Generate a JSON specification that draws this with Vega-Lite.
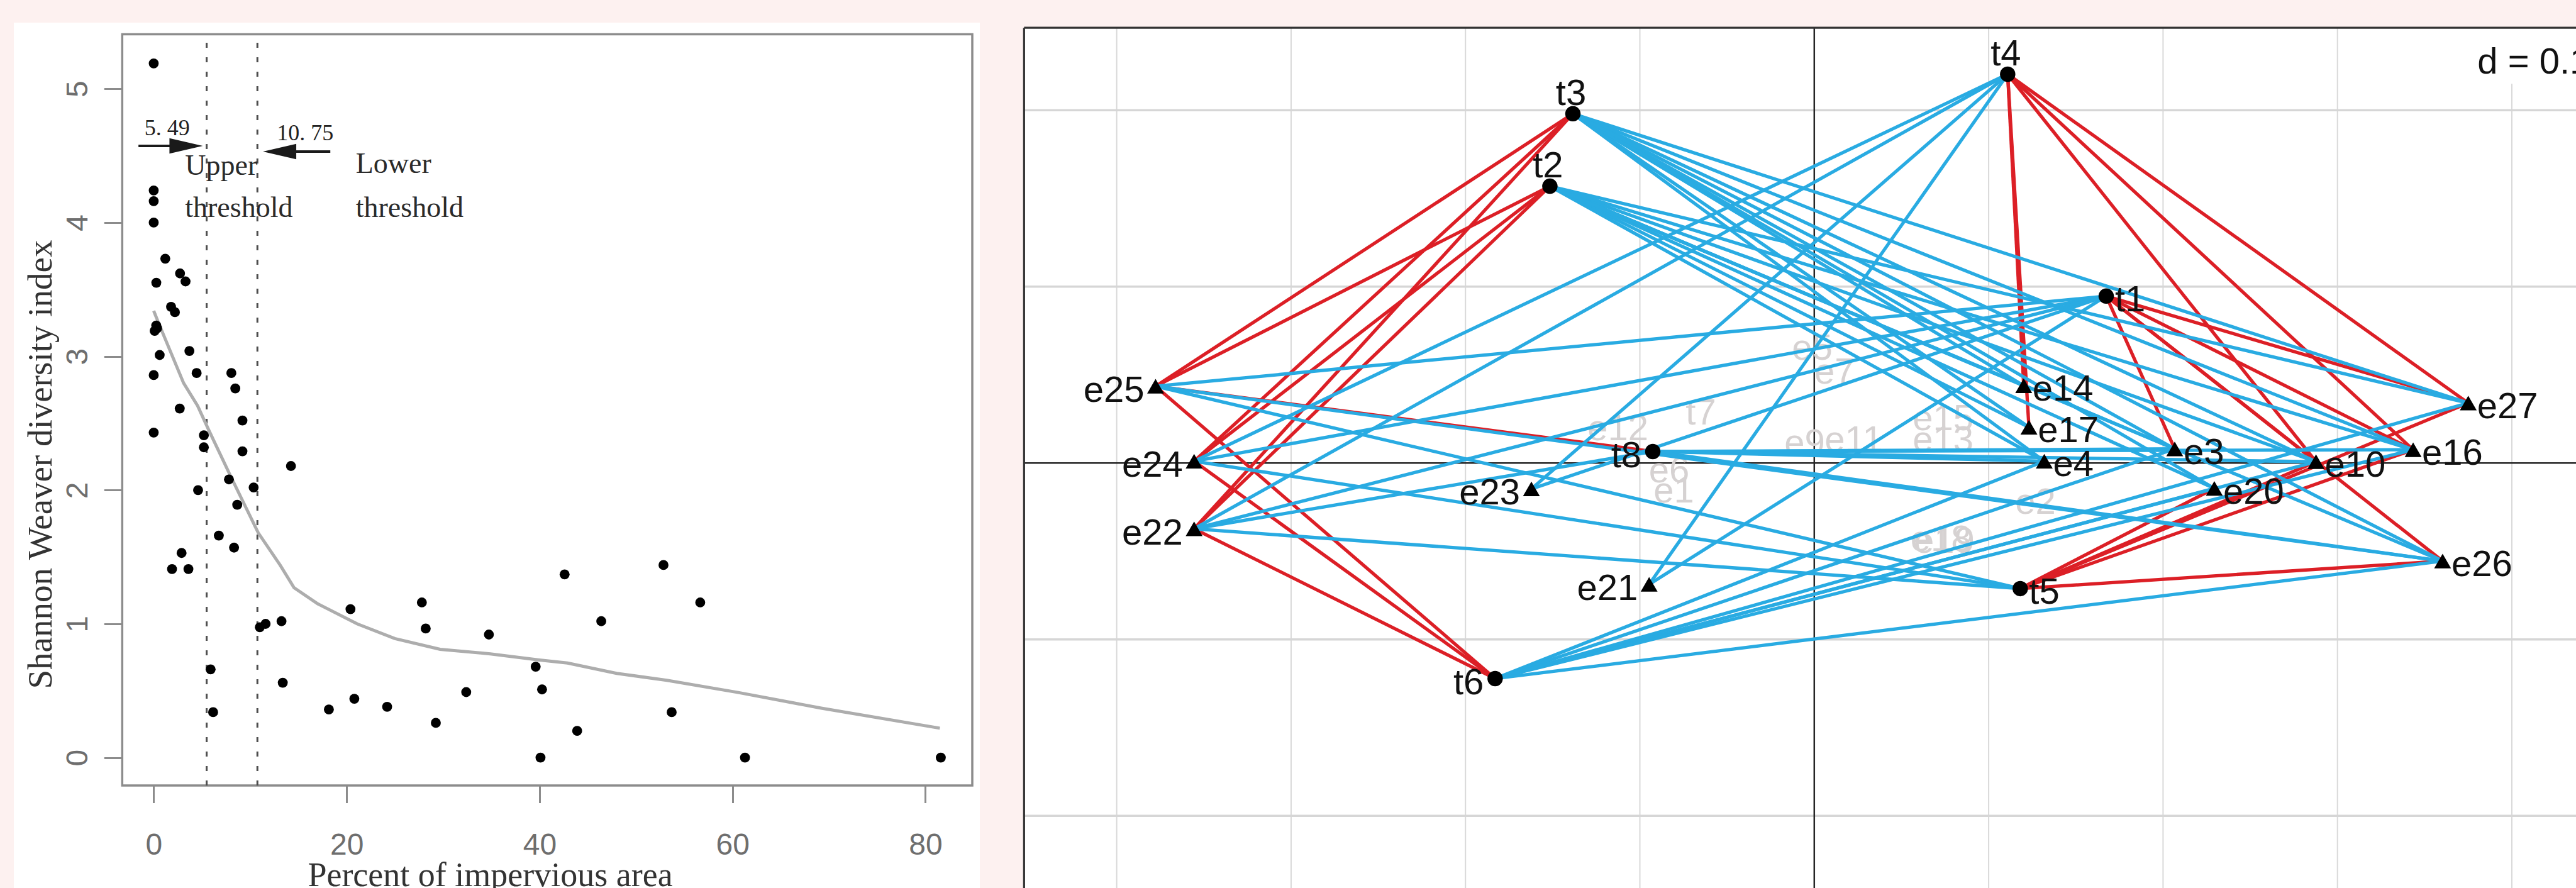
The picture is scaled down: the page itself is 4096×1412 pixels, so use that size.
{
  "$schema": "https://vega.github.io/schema/vega-lite/v6.json",
  "usermeta": {"embedOptions": {"actions": false}},
  "width": 4096,
  "height": 1412,
  "padding": 0,
  "autosize": {"type": "none"},
  "background": "#fdf1f0",
  "config": {"view": {"stroke": null, "fill": null}, "axis": {"grid": false}},
  "datasets": {
    "pts": [
      {"x": 0, "y": 5.19}, {"x": 0, "y": 4.24}, {"x": 0, "y": 4.16}, {"x": 0, "y": 4.0},
      {"x": 1.2, "y": 3.73}, {"x": 0.27, "y": 3.55}, {"x": 2.73, "y": 3.62}, {"x": 3.3, "y": 3.56},
      {"x": 1.8, "y": 3.37}, {"x": 2.2, "y": 3.33}, {"x": 0.26, "y": 3.23}, {"x": 0.1, "y": 3.19},
      {"x": 0.35, "y": 3.21}, {"x": 0.62, "y": 3.01}, {"x": 3.7, "y": 3.04}, {"x": 0, "y": 2.86},
      {"x": 4.45, "y": 2.875}, {"x": 2.7, "y": 2.61}, {"x": 0, "y": 2.43}, {"x": 5.2, "y": 2.41},
      {"x": 5.2, "y": 2.32}, {"x": 4.6, "y": 2.0}, {"x": 8.05, "y": 2.875}, {"x": 8.46, "y": 2.76},
      {"x": 9.2, "y": 2.52}, {"x": 9.2, "y": 2.29}, {"x": 7.8, "y": 2.08}, {"x": 8.66, "y": 1.89},
      {"x": 10.36, "y": 2.02}, {"x": 6.75, "y": 1.66}, {"x": 8.33, "y": 1.57}, {"x": 2.89, "y": 1.53},
      {"x": 1.9, "y": 1.41}, {"x": 3.6, "y": 1.41}, {"x": 14.23, "y": 2.18}, {"x": 11.0, "y": 0.975},
      {"x": 11.6, "y": 1.0}, {"x": 13.25, "y": 1.02}, {"x": 5.9, "y": 0.66}, {"x": 6.16, "y": 0.34},
      {"x": 13.38, "y": 0.56}, {"x": 18.16, "y": 0.36}, {"x": 20.4, "y": 1.11}, {"x": 20.8, "y": 0.44},
      {"x": 24.2, "y": 0.38}, {"x": 27.8, "y": 1.16}, {"x": 28.2, "y": 0.965}, {"x": 29.25, "y": 0.26},
      {"x": 32.4, "y": 0.49}, {"x": 34.75, "y": 0.92}, {"x": 39.6, "y": 0.68}, {"x": 40.26, "y": 0.51},
      {"x": 40.1, "y": 0}, {"x": 42.6, "y": 1.37}, {"x": 43.9, "y": 0.2}, {"x": 46.4, "y": 1.02},
      {"x": 52.85, "y": 1.44}, {"x": 53.7, "y": 0.34}, {"x": 56.66, "y": 1.16}, {"x": 61.3, "y": 0},
      {"x": 81.6, "y": 0}
    ],
    "lowess": [
      {"x": 0, "y": 3.34}, {"x": 0.5, "y": 3.25}, {"x": 3.1, "y": 2.8}, {"x": 4.55, "y": 2.63},
      {"x": 5.7, "y": 2.45}, {"x": 8.0, "y": 2.1}, {"x": 10.84, "y": 1.68}, {"x": 13.1, "y": 1.44},
      {"x": 14.55, "y": 1.27}, {"x": 17, "y": 1.15}, {"x": 21.1, "y": 1.0}, {"x": 25, "y": 0.89},
      {"x": 29.7, "y": 0.81}, {"x": 34.9, "y": 0.776}, {"x": 40, "y": 0.73}, {"x": 42.9, "y": 0.707},
      {"x": 48, "y": 0.63}, {"x": 53.2, "y": 0.578}, {"x": 60.6, "y": 0.487}, {"x": 69.2, "y": 0.37},
      {"x": 81.5, "y": 0.22}
    ],
    "nodes": [
      {"id": "t4", "kind": "t", "x": 0.1109, "y": 0.2204},
      {"id": "t3", "kind": "t", "x": -0.1384, "y": 0.198},
      {"id": "t2", "kind": "t", "x": -0.1516, "y": 0.1569},
      {"id": "t1", "kind": "t", "x": 0.1674, "y": 0.0946},
      {"id": "t8", "kind": "t", "x": -0.0926, "y": 0.0065},
      {"id": "t6", "kind": "t", "x": -0.183, "y": -0.1222},
      {"id": "t5", "kind": "t", "x": 0.1181, "y": -0.0712},
      {"id": "e25", "kind": "e", "x": -0.3777, "y": 0.0435},
      {"id": "e24", "kind": "e", "x": -0.3556, "y": 0.001},
      {"id": "e22", "kind": "e", "x": -0.3556, "y": -0.0373},
      {"id": "e23", "kind": "e", "x": -0.1622, "y": -0.0147},
      {"id": "e21", "kind": "e", "x": -0.0947, "y": -0.0688},
      {"id": "e14", "kind": "e", "x": 0.1201, "y": 0.0438},
      {"id": "e17", "kind": "e", "x": 0.1231, "y": 0.0203},
      {"id": "e4", "kind": "e", "x": 0.1319, "y": 0.001},
      {"id": "e3", "kind": "e", "x": 0.2067, "y": 0.008},
      {"id": "e20", "kind": "e", "x": 0.2294, "y": -0.0144},
      {"id": "e10", "kind": "e", "x": 0.2877, "y": 0.0007},
      {"id": "e16", "kind": "e", "x": 0.3434, "y": 0.0075},
      {"id": "e27", "kind": "e", "x": 0.375, "y": 0.034},
      {"id": "e26", "kind": "e", "x": 0.3603, "y": -0.0556}
    ],
    "edges": [
      {"s": "t3", "t": "e25", "sign": "neg", "xa": -0.1384, "ya": 0.198, "xb": -0.3777, "yb": 0.0435},
      {"s": "t3", "t": "e24", "sign": "neg", "xa": -0.1384, "ya": 0.198, "xb": -0.3556, "yb": 0.001},
      {"s": "t3", "t": "e22", "sign": "neg", "xa": -0.1384, "ya": 0.198, "xb": -0.3556, "yb": -0.0373},
      {"s": "t2", "t": "e25", "sign": "neg", "xa": -0.1516, "ya": 0.1569, "xb": -0.3777, "yb": 0.0435},
      {"s": "t2", "t": "e24", "sign": "neg", "xa": -0.1516, "ya": 0.1569, "xb": -0.3556, "yb": 0.001},
      {"s": "t2", "t": "e22", "sign": "neg", "xa": -0.1516, "ya": 0.1569, "xb": -0.3556, "yb": -0.0373},
      {"s": "t6", "t": "e25", "sign": "neg", "xa": -0.183, "ya": -0.1222, "xb": -0.3777, "yb": 0.0435},
      {"s": "t6", "t": "e24", "sign": "neg", "xa": -0.183, "ya": -0.1222, "xb": -0.3556, "yb": 0.001},
      {"s": "t6", "t": "e22", "sign": "neg", "xa": -0.183, "ya": -0.1222, "xb": -0.3556, "yb": -0.0373},
      {"s": "t8", "t": "e25", "sign": "neg", "xa": -0.0926, "ya": 0.0065, "xb": -0.3777, "yb": 0.0435},
      {"s": "t4", "t": "e14", "sign": "neg", "xa": 0.1109, "ya": 0.2204, "xb": 0.1201, "yb": 0.0438},
      {"s": "t4", "t": "e17", "sign": "neg", "xa": 0.1109, "ya": 0.2204, "xb": 0.1231, "yb": 0.0203},
      {"s": "t4", "t": "e27", "sign": "neg", "xa": 0.1109, "ya": 0.2204, "xb": 0.375, "yb": 0.034},
      {"s": "t4", "t": "e16", "sign": "neg", "xa": 0.1109, "ya": 0.2204, "xb": 0.3434, "yb": 0.0075},
      {"s": "t4", "t": "e10", "sign": "neg", "xa": 0.1109, "ya": 0.2204, "xb": 0.2877, "yb": 0.0007},
      {"s": "t1", "t": "e3", "sign": "neg", "xa": 0.1674, "ya": 0.0946, "xb": 0.2067, "yb": 0.008},
      {"s": "t1", "t": "e27", "sign": "neg", "xa": 0.1674, "ya": 0.0946, "xb": 0.375, "yb": 0.034},
      {"s": "t1", "t": "e16", "sign": "neg", "xa": 0.1674, "ya": 0.0946, "xb": 0.3434, "yb": 0.0075},
      {"s": "t1", "t": "e10", "sign": "neg", "xa": 0.1674, "ya": 0.0946, "xb": 0.2877, "yb": 0.0007},
      {"s": "t1", "t": "e26", "sign": "neg", "xa": 0.1674, "ya": 0.0946, "xb": 0.3603, "yb": -0.0556},
      {"s": "t5", "t": "e20", "sign": "neg", "xa": 0.1181, "ya": -0.0712, "xb": 0.2294, "yb": -0.0144},
      {"s": "t5", "t": "e10", "sign": "neg", "xa": 0.1181, "ya": -0.0712, "xb": 0.2877, "yb": 0.0007},
      {"s": "t5", "t": "e16", "sign": "neg", "xa": 0.1181, "ya": -0.0712, "xb": 0.3434, "yb": 0.0075},
      {"s": "t5", "t": "e27", "sign": "neg", "xa": 0.1181, "ya": -0.0712, "xb": 0.375, "yb": 0.034},
      {"s": "t5", "t": "e26", "sign": "neg", "xa": 0.1181, "ya": -0.0712, "xb": 0.3603, "yb": -0.0556},
      {"s": "t3", "t": "e14", "sign": "pos", "xa": -0.1384, "ya": 0.198, "xb": 0.1201, "yb": 0.0438},
      {"s": "t3", "t": "e17", "sign": "pos", "xa": -0.1384, "ya": 0.198, "xb": 0.1231, "yb": 0.0203},
      {"s": "t3", "t": "e4", "sign": "pos", "xa": -0.1384, "ya": 0.198, "xb": 0.1319, "yb": 0.001},
      {"s": "t3", "t": "e3", "sign": "pos", "xa": -0.1384, "ya": 0.198, "xb": 0.2067, "yb": 0.008},
      {"s": "t3", "t": "e20", "sign": "pos", "xa": -0.1384, "ya": 0.198, "xb": 0.2294, "yb": -0.0144},
      {"s": "t3", "t": "e10", "sign": "pos", "xa": -0.1384, "ya": 0.198, "xb": 0.2877, "yb": 0.0007},
      {"s": "t3", "t": "e16", "sign": "pos", "xa": -0.1384, "ya": 0.198, "xb": 0.3434, "yb": 0.0075},
      {"s": "t3", "t": "e27", "sign": "pos", "xa": -0.1384, "ya": 0.198, "xb": 0.375, "yb": 0.034},
      {"s": "t3", "t": "e26", "sign": "pos", "xa": -0.1384, "ya": 0.198, "xb": 0.3603, "yb": -0.0556},
      {"s": "t2", "t": "e14", "sign": "pos", "xa": -0.1516, "ya": 0.1569, "xb": 0.1201, "yb": 0.0438},
      {"s": "t2", "t": "e17", "sign": "pos", "xa": -0.1516, "ya": 0.1569, "xb": 0.1231, "yb": 0.0203},
      {"s": "t2", "t": "e4", "sign": "pos", "xa": -0.1516, "ya": 0.1569, "xb": 0.1319, "yb": 0.001},
      {"s": "t2", "t": "e3", "sign": "pos", "xa": -0.1516, "ya": 0.1569, "xb": 0.2067, "yb": 0.008},
      {"s": "t2", "t": "e20", "sign": "pos", "xa": -0.1516, "ya": 0.1569, "xb": 0.2294, "yb": -0.0144},
      {"s": "t2", "t": "e10", "sign": "pos", "xa": -0.1516, "ya": 0.1569, "xb": 0.2877, "yb": 0.0007},
      {"s": "t2", "t": "e16", "sign": "pos", "xa": -0.1516, "ya": 0.1569, "xb": 0.3434, "yb": 0.0075},
      {"s": "t2", "t": "e27", "sign": "pos", "xa": -0.1516, "ya": 0.1569, "xb": 0.375, "yb": 0.034},
      {"s": "t2", "t": "e26", "sign": "pos", "xa": -0.1516, "ya": 0.1569, "xb": 0.3603, "yb": -0.0556},
      {"s": "t4", "t": "e24", "sign": "pos", "xa": 0.1109, "ya": 0.2204, "xb": -0.3556, "yb": 0.001},
      {"s": "t4", "t": "e22", "sign": "pos", "xa": 0.1109, "ya": 0.2204, "xb": -0.3556, "yb": -0.0373},
      {"s": "t4", "t": "e23", "sign": "pos", "xa": 0.1109, "ya": 0.2204, "xb": -0.1622, "yb": -0.0147},
      {"s": "t4", "t": "e21", "sign": "pos", "xa": 0.1109, "ya": 0.2204, "xb": -0.0947, "yb": -0.0688},
      {"s": "t1", "t": "e25", "sign": "pos", "xa": 0.1674, "ya": 0.0946, "xb": -0.3777, "yb": 0.0435},
      {"s": "t1", "t": "e24", "sign": "pos", "xa": 0.1674, "ya": 0.0946, "xb": -0.3556, "yb": 0.001},
      {"s": "t1", "t": "e22", "sign": "pos", "xa": 0.1674, "ya": 0.0946, "xb": -0.3556, "yb": -0.0373},
      {"s": "t1", "t": "e23", "sign": "pos", "xa": 0.1674, "ya": 0.0946, "xb": -0.1622, "yb": -0.0147},
      {"s": "t1", "t": "e21", "sign": "pos", "xa": 0.1674, "ya": 0.0946, "xb": -0.0947, "yb": -0.0688},
      {"s": "t5", "t": "e25", "sign": "pos", "xa": 0.1181, "ya": -0.0712, "xb": -0.3777, "yb": 0.0435},
      {"s": "t5", "t": "e24", "sign": "pos", "xa": 0.1181, "ya": -0.0712, "xb": -0.3556, "yb": 0.001},
      {"s": "t5", "t": "e22", "sign": "pos", "xa": 0.1181, "ya": -0.0712, "xb": -0.3556, "yb": -0.0373},
      {"s": "t6", "t": "e4", "sign": "pos", "xa": -0.183, "ya": -0.1222, "xb": 0.1319, "yb": 0.001},
      {"s": "t6", "t": "e3", "sign": "pos", "xa": -0.183, "ya": -0.1222, "xb": 0.2067, "yb": 0.008},
      {"s": "t6", "t": "e20", "sign": "pos", "xa": -0.183, "ya": -0.1222, "xb": 0.2294, "yb": -0.0144},
      {"s": "t6", "t": "e10", "sign": "pos", "xa": -0.183, "ya": -0.1222, "xb": 0.2877, "yb": 0.0007},
      {"s": "t6", "t": "e16", "sign": "pos", "xa": -0.183, "ya": -0.1222, "xb": 0.3434, "yb": 0.0075},
      {"s": "t6", "t": "e27", "sign": "pos", "xa": -0.183, "ya": -0.1222, "xb": 0.375, "yb": 0.034},
      {"s": "t6", "t": "e26", "sign": "pos", "xa": -0.183, "ya": -0.1222, "xb": 0.3603, "yb": -0.0556},
      {"s": "t8", "t": "e4", "sign": "pos", "xa": -0.0926, "ya": 0.0065, "xb": 0.1319, "yb": 0.001},
      {"s": "t8", "t": "e3", "sign": "pos", "xa": -0.0926, "ya": 0.0065, "xb": 0.2067, "yb": 0.008},
      {"s": "t8", "t": "e10", "sign": "pos", "xa": -0.0926, "ya": 0.0065, "xb": 0.2877, "yb": 0.0007},
      {"s": "t8", "t": "e16", "sign": "pos", "xa": -0.0926, "ya": 0.0065, "xb": 0.3434, "yb": 0.0075},
      {"s": "t8", "t": "e26", "sign": "pos", "xa": -0.0926, "ya": 0.0065, "xb": 0.3603, "yb": -0.0556},
      {"s": "t8", "t": "e22", "sign": "pos", "xa": -0.0926, "ya": 0.0065, "xb": -0.3556, "yb": -0.0373},
      {"s": "e25", "t": "e26", "sign": "pos", "xa": -0.3777, "ya": 0.0435, "xb": 0.3603, "yb": -0.0556}
    ],
    "ghost": [
      {"lab": "e12", "x": -0.1126, "y": 0.019}, {"lab": "t7", "x": -0.065, "y": 0.0278},
      {"lab": "e6", "x": -0.0832, "y": -0.0049}, {"lab": "e1", "x": -0.0805, "y": -0.0163},
      {"lab": "e5", "x": -0.0012, "y": 0.0647}, {"lab": "e7", "x": 0.0117, "y": 0.051},
      {"lab": "e9", "x": -0.0055, "y": 0.0108}, {"lab": "e11", "x": 0.0226, "y": 0.0124},
      {"lab": "e15", "x": 0.0739, "y": 0.0245}, {"lab": "e13", "x": 0.0739, "y": 0.0124},
      {"lab": "e2", "x": 0.1268, "y": -0.0229}, {"lab": "e18", "x": 0.0726, "y": -0.0438},
      {"lab": "e19", "x": 0.0745, "y": -0.0448}
    ],
    "vgrid": [
      {"x": -0.4, "y1": -0.3, "y2": 0.2467}, {"x": -0.3, "y1": -0.3, "y2": 0.2467},
      {"x": -0.2, "y1": -0.3, "y2": 0.2467}, {"x": -0.1, "y1": -0.3, "y2": 0.2467},
      {"x": 0.1, "y1": -0.3, "y2": 0.2467}, {"x": 0.2, "y1": -0.3, "y2": 0.2467},
      {"x": 0.3, "y1": -0.3, "y2": 0.2467}, {"x": 0.4, "y1": -0.3, "y2": 0.215}
    ],
    "hgrid": [
      {"y": -0.2, "x1": -0.4531, "x2": 0.5}, {"y": -0.1, "x1": -0.4531, "x2": 0.5},
      {"y": 0.1, "x1": -0.4531, "x2": 0.5}, {"y": 0.2, "x1": -0.4531, "x2": 0.5}
    ]
  },
  "layer": [
    {
      "layer": [
        {
          "data": {"name": "pts"},
          "mark": {"type": "circle", "color": "#000000", "size": 250, "opacity": 0},
          "encoding": {
            "x": {"field": "x", "type": "quantitative", "scale": {"domain": [0, 80], "range": [244.4, 1471.4], "nice": false, "zero": false},
              "axis": {"orient": "bottom", "offset": -163, "zindex": 2, "values": [0, 20, 40, 60, 80], "format": "d", "domain": false, "grid": false,
                "tickSize": 27.5, "tickWidth": 3, "tickColor": "#8c8c8c",
                "labelFont": "Liberation Sans", "labelFontSize": 48, "labelColor": "#6e6e6e", "labelPadding": 44,
                "labelBaseline": "top", "labelAlign": "center", "labelFlush": false, "labelOverlap": false, "labelBound": false,
                "title": "Percent of impervious area", "titleFont": "Liberation Serif", "titleFontSize": 54, "titleFontWeight": "normal",
                "titleColor": "#333333", "titleX": 779, "titleY": 159, "titleAlign": "center", "titleBaseline": "alphabetic", "titleAngle": 0}},
            "y": {"field": "y", "type": "quantitative", "scale": {"domain": [0, 5], "range": [1204.7, 141.2], "nice": false, "zero": false},
              "axis": {"orient": "left", "offset": -194.3, "zindex": 2, "values": [0, 1, 2, 3, 4, 5], "format": "d", "domain": false, "grid": false,
                "tickSize": 29, "tickWidth": 3, "tickColor": "#8c8c8c",
                "labelFont": "Liberation Sans", "labelFontSize": 48, "labelColor": "#6e6e6e", "labelPadding": 27,
                "labelAngle": 270, "labelAlign": "center", "labelBaseline": "alphabetic", "labelFlush": false, "labelOverlap": false, "labelBound": false,
                "title": "Shannon Weaver diversity index", "titleFont": "Liberation Serif", "titleFontSize": 55, "titleFontWeight": "normal",
                "titleColor": "#333333", "titleX": -113, "titleY": 738, "titleAngle": 270, "titleAlign": "center", "titleBaseline": "alphabetic"}}
          }
        },
        {
          "data": {"values": [{}]},
          "mark": {"type": "rect", "fill": "#ffffff"},
          "encoding": {
            "x": {"datum": -14.5, "type": "quantitative", "scale": {"domain": [0, 80], "range": [244.4, 1471.4], "nice": false, "zero": false}},
            "x2": {"datum": 85.65},
            "y": {"datum": 5.495, "type": "quantitative", "scale": {"domain": [0, 5], "range": [1204.7, 141.2], "nice": false, "zero": false}},
            "y2": {"datum": -1.05}
          }
        },
        {
          "data": {"values": [{}]},
          "mark": {"type": "rect", "fill": "#ffffff", "fillOpacity": 0, "stroke": "#8c8c8c", "strokeWidth": 3.5},
          "encoding": {
            "x": {"datum": -3.264, "type": "quantitative", "scale": {"domain": [0, 80], "range": [244.4, 1471.4], "nice": false, "zero": false}},
            "x2": {"datum": 84.864},
            "y": {"datum": 5.408, "type": "quantitative", "scale": {"domain": [0, 5], "range": [1204.7, 141.2], "nice": false, "zero": false}},
            "y2": {"datum": -0.208}
          }
        },
        {
          "data": {"values": [{"x": 5.49}, {"x": 10.75}]},
          "mark": {"type": "rule", "color": "#4d4d4d", "strokeWidth": 3, "strokeDash": [8, 15]},
          "encoding": {
            "x": {"field": "x", "type": "quantitative", "scale": {"domain": [0, 80], "range": [244.4, 1471.4], "nice": false, "zero": false}},
            "y": {"datum": -0.208, "type": "quantitative", "scale": {"domain": [0, 5], "range": [1204.7, 141.2], "nice": false, "zero": false}},
            "y2": {"datum": 5.408}
          }
        },
        {
          "data": {"name": "lowess"},
          "mark": {"type": "line", "color": "#adadad", "strokeWidth": 5},
          "encoding": {
            "x": {"field": "x", "type": "quantitative", "scale": {"domain": [0, 80], "range": [244.4, 1471.4], "nice": false, "zero": false}},
            "y": {"field": "y", "type": "quantitative", "scale": {"domain": [0, 5], "range": [1204.7, 141.2], "nice": false, "zero": false}}
          }
        },
        {
          "data": {"name": "pts"},
          "mark": {"type": "circle", "color": "#000000", "size": 250, "opacity": 1},
          "encoding": {
            "x": {"field": "x", "type": "quantitative", "scale": {"domain": [0, 80], "range": [244.4, 1471.4], "nice": false, "zero": false}},
            "y": {"field": "y", "type": "quantitative", "scale": {"domain": [0, 5], "range": [1204.7, 141.2], "nice": false, "zero": false}}
          }
        },
        {
          "data": {"values": [{"x": -1.58, "x2": 3.4, "y": 4.573}, {"x": 13.0, "x2": 18.31, "y": 4.531}]},
          "mark": {"type": "rule", "color": "#1a1a1a", "strokeWidth": 4},
          "encoding": {
            "x": {"field": "x", "type": "quantitative", "scale": {"domain": [0, 80], "range": [244.4, 1471.4], "nice": false, "zero": false}},
            "x2": {"field": "x2"},
            "y": {"field": "y", "type": "quantitative", "scale": {"domain": [0, 5], "range": [1204.7, 141.2], "nice": false, "zero": false}}
          }
        },
        {
          "data": {"values": [{"x": 3.36, "y": 4.573, "dir": "right"}, {"x": 13.05, "y": 4.531, "dir": "left"}]},
          "mark": {"type": "point", "filled": true, "color": "#1a1a1a", "opacity": 1, "size": 2809},
          "encoding": {
            "x": {"field": "x", "type": "quantitative", "scale": {"domain": [0, 80], "range": [244.4, 1471.4], "nice": false, "zero": false}},
            "y": {"field": "y", "type": "quantitative", "scale": {"domain": [0, 5], "range": [1204.7, 141.2], "nice": false, "zero": false}},
            "shape": {"field": "dir", "type": "nominal", "scale": {"domain": ["right", "left"], "range": ["M-1,-0.46L1,0L-1,0.46Z", "M1,-0.46L-1,0L1,0.46Z"]}, "legend": null}
          }
        },
        {
          "data": {"values": [{"x": 1.4, "y": 4.655, "txt": "5. 49"}, {"x": 15.71, "y": 4.617, "txt": "10. 75"}]},
          "mark": {"type": "text", "font": "Liberation Serif", "fontSize": 36, "color": "#222222", "align": "center", "baseline": "alphabetic"},
          "encoding": {
            "x": {"field": "x", "type": "quantitative", "scale": {"domain": [0, 80], "range": [244.4, 1471.4], "nice": false, "zero": false}},
            "y": {"field": "y", "type": "quantitative", "scale": {"domain": [0, 5], "range": [1204.7, 141.2], "nice": false, "zero": false}},
            "text": {"field": "txt"}
          }
        },
        {
          "data": {"values": [
            {"x": 3.25, "y": 4.358, "txt": "Upper"}, {"x": 3.25, "y": 4.043, "txt": "threshold"},
            {"x": 20.95, "y": 4.371, "txt": "Lower"}, {"x": 20.95, "y": 4.043, "txt": "threshold"}
          ]},
          "mark": {"type": "text", "font": "Liberation Serif", "fontSize": 46, "color": "#2a2a2a", "align": "left", "baseline": "alphabetic"},
          "encoding": {
            "x": {"field": "x", "type": "quantitative", "scale": {"domain": [0, 80], "range": [244.4, 1471.4], "nice": false, "zero": false}},
            "y": {"field": "y", "type": "quantitative", "scale": {"domain": [0, 5], "range": [1204.7, 141.2], "nice": false, "zero": false}},
            "text": {"field": "txt"}
          }
        }
      ]
    },
    {
      "layer": [
        {
          "data": {"values": [{}]},
          "mark": {"type": "rect", "fill": "#ffffff"},
          "encoding": {
            "x": {"datum": -0.4531, "type": "quantitative", "scale": {"domain": [-0.5, 0.5], "range": [1498.3, 4271.3], "nice": false, "zero": false}, "axis": null},
            "x2": {"datum": 0.5},
            "y": {"datum": -0.3, "type": "quantitative", "scale": {"domain": [-0.3, 0.3], "range": [1577.7, -105.3], "nice": false, "zero": false}, "axis": null},
            "y2": {"datum": 0.2467}
          }
        },
        {
          "data": {"name": "vgrid"},
          "mark": {"type": "rule", "color": "#d9d9d9", "strokeWidth": 2},
          "encoding": {
            "x": {"field": "x", "type": "quantitative", "scale": {"domain": [-0.5, 0.5], "range": [1498.3, 4271.3], "nice": false, "zero": false}, "axis": null},
            "y": {"field": "y1", "type": "quantitative", "scale": {"domain": [-0.3, 0.3], "range": [1577.7, -105.3], "nice": false, "zero": false}, "axis": null},
            "y2": {"field": "y2"}
          }
        },
        {
          "data": {"name": "hgrid"},
          "mark": {"type": "rule", "color": "#d6d6d6", "strokeWidth": 3.5},
          "encoding": {
            "x": {"field": "x1", "type": "quantitative", "scale": {"domain": [-0.5, 0.5], "range": [1498.3, 4271.3], "nice": false, "zero": false}, "axis": null},
            "x2": {"field": "x2"},
            "y": {"field": "y", "type": "quantitative", "scale": {"domain": [-0.3, 0.3], "range": [1577.7, -105.3], "nice": false, "zero": false}, "axis": null}
          }
        },
        {
          "data": {"values": [{"x1": 0, "x2": 0, "y1": -0.3, "y2": 0.2467}, {"x1": -0.4531, "x2": 0.5, "y1": 0, "y2": 0}]},
          "mark": {"type": "rule", "color": "#262626", "strokeWidth": 2.5},
          "encoding": {
            "x": {"field": "x1", "type": "quantitative", "scale": {"domain": [-0.5, 0.5], "range": [1498.3, 4271.3], "nice": false, "zero": false}, "axis": null},
            "x2": {"field": "x2"},
            "y": {"field": "y1", "type": "quantitative", "scale": {"domain": [-0.3, 0.3], "range": [1577.7, -105.3], "nice": false, "zero": false}, "axis": null},
            "y2": {"field": "y2"}
          }
        },
        {
          "data": {"values": [{"x1": -0.4531, "x2": -0.4531, "y1": -0.3, "y2": 0.2467}, {"x1": -0.4531, "x2": 0.5, "y1": 0.2467, "y2": 0.2467}]},
          "mark": {"type": "rule", "color": "#333333", "strokeWidth": 3.2},
          "encoding": {
            "x": {"field": "x1", "type": "quantitative", "scale": {"domain": [-0.5, 0.5], "range": [1498.3, 4271.3], "nice": false, "zero": false}, "axis": null},
            "x2": {"field": "x2"},
            "y": {"field": "y1", "type": "quantitative", "scale": {"domain": [-0.3, 0.3], "range": [1577.7, -105.3], "nice": false, "zero": false}, "axis": null},
            "y2": {"field": "y2"}
          }
        },
        {
          "data": {"name": "ghost"},
          "mark": {"type": "text", "font": "Liberation Sans", "fontSize": 58, "color": "#d6d2d2", "align": "center", "baseline": "middle"},
          "encoding": {
            "x": {"field": "x", "type": "quantitative", "scale": {"domain": [-0.5, 0.5], "range": [1498.3, 4271.3], "nice": false, "zero": false}, "axis": null},
            "y": {"field": "y", "type": "quantitative", "scale": {"domain": [-0.3, 0.3], "range": [1577.7, -105.3], "nice": false, "zero": false}, "axis": null},
            "text": {"field": "lab"}
          }
        },
        {
          "data": {"name": "edges"},
          "mark": {"type": "rule", "strokeWidth": 5.3, "opacity": 1},
          "encoding": {
            "x": {"field": "xa", "type": "quantitative", "scale": {"domain": [-0.5, 0.5], "range": [1498.3, 4271.3], "nice": false, "zero": false}, "axis": null},
            "x2": {"field": "xb"},
            "y": {"field": "ya", "type": "quantitative", "scale": {"domain": [-0.3, 0.3], "range": [1577.7, -105.3], "nice": false, "zero": false}, "axis": null},
            "y2": {"field": "yb"},
            "color": {"field": "sign", "type": "nominal", "scale": {"domain": ["neg", "pos"], "range": ["#dc1f26", "#29abe2"]}, "legend": null}
          }
        },
        {
          "data": {"name": "nodes"},
          "transform": [{"filter": {"field": "kind", "equal": "t"}}],
          "mark": {"type": "circle", "color": "#000000", "size": 600, "opacity": 1},
          "encoding": {
            "x": {"field": "x", "type": "quantitative", "scale": {"domain": [-0.5, 0.5], "range": [1498.3, 4271.3], "nice": false, "zero": false}, "axis": null},
            "y": {"field": "y", "type": "quantitative", "scale": {"domain": [-0.3, 0.3], "range": [1577.7, -105.3], "nice": false, "zero": false}, "axis": null}
          }
        },
        {
          "data": {"name": "nodes"},
          "transform": [{"filter": {"field": "kind", "equal": "e"}}],
          "mark": {"type": "point", "shape": "triangle-up", "filled": true, "color": "#000000", "size": 720, "opacity": 1},
          "encoding": {
            "x": {"field": "x", "type": "quantitative", "scale": {"domain": [-0.5, 0.5], "range": [1498.3, 4271.3], "nice": false, "zero": false}, "axis": null},
            "y": {"field": "y", "type": "quantitative", "scale": {"domain": [-0.3, 0.3], "range": [1577.7, -105.3], "nice": false, "zero": false}, "axis": null}
          }
        },
        {
          "data": {"name": "nodes"},
          "transform": [{"filter": {"field": "id", "oneOf": ["e14", "e17", "e4", "e3", "e20", "e10", "e16", "e27", "e26", "t1", "t5"]}}],
          "mark": {"type": "text", "font": "Liberation Sans", "fontSize": 58, "color": "#111111", "align": "left", "baseline": "middle", "dx": 14, "dy": 7},
          "encoding": {
            "x": {"field": "x", "type": "quantitative", "scale": {"domain": [-0.5, 0.5], "range": [1498.3, 4271.3], "nice": false, "zero": false}, "axis": null},
            "y": {"field": "y", "type": "quantitative", "scale": {"domain": [-0.3, 0.3], "range": [1577.7, -105.3], "nice": false, "zero": false}, "axis": null},
            "text": {"field": "id"}
          }
        },
        {
          "data": {"name": "nodes"},
          "transform": [{"filter": {"field": "id", "oneOf": ["e25", "e24", "e22", "e23", "e21", "t8", "t6"]}}],
          "mark": {"type": "text", "font": "Liberation Sans", "fontSize": 58, "color": "#111111", "align": "right", "baseline": "middle", "dx": -18, "dy": 8},
          "encoding": {
            "x": {"field": "x", "type": "quantitative", "scale": {"domain": [-0.5, 0.5], "range": [1498.3, 4271.3], "nice": false, "zero": false}, "axis": null},
            "y": {"field": "y", "type": "quantitative", "scale": {"domain": [-0.3, 0.3], "range": [1577.7, -105.3], "nice": false, "zero": false}, "axis": null},
            "text": {"field": "id"}
          }
        },
        {
          "data": {"name": "nodes"},
          "transform": [{"filter": {"field": "id", "oneOf": ["t3", "t2", "t4"]}}],
          "mark": {"type": "text", "font": "Liberation Sans", "fontSize": 58, "color": "#111111", "align": "center", "baseline": "alphabetic", "dx": -3, "dy": -14},
          "encoding": {
            "x": {"field": "x", "type": "quantitative", "scale": {"domain": [-0.5, 0.5], "range": [1498.3, 4271.3], "nice": false, "zero": false}, "axis": null},
            "y": {"field": "y", "type": "quantitative", "scale": {"domain": [-0.3, 0.3], "range": [1577.7, -105.3], "nice": false, "zero": false}, "axis": null},
            "text": {"field": "id"}
          }
        },
        {
          "data": {"values": [{"x": 0.3803, "y": 0.2206, "txt": "d = 0.1"}]},
          "mark": {"type": "text", "font": "Liberation Sans", "fontSize": 58, "color": "#111111", "align": "left", "baseline": "alphabetic"},
          "encoding": {
            "x": {"field": "x", "type": "quantitative", "scale": {"domain": [-0.5, 0.5], "range": [1498.3, 4271.3], "nice": false, "zero": false}, "axis": null},
            "y": {"field": "y", "type": "quantitative", "scale": {"domain": [-0.3, 0.3], "range": [1577.7, -105.3], "nice": false, "zero": false}, "axis": null},
            "text": {"field": "txt"}
          }
        }
      ]
    }
  ],
  "resolve": {"scale": {"x": "independent", "y": "independent"}, "axis": {"x": "independent", "y": "independent"}}
}
